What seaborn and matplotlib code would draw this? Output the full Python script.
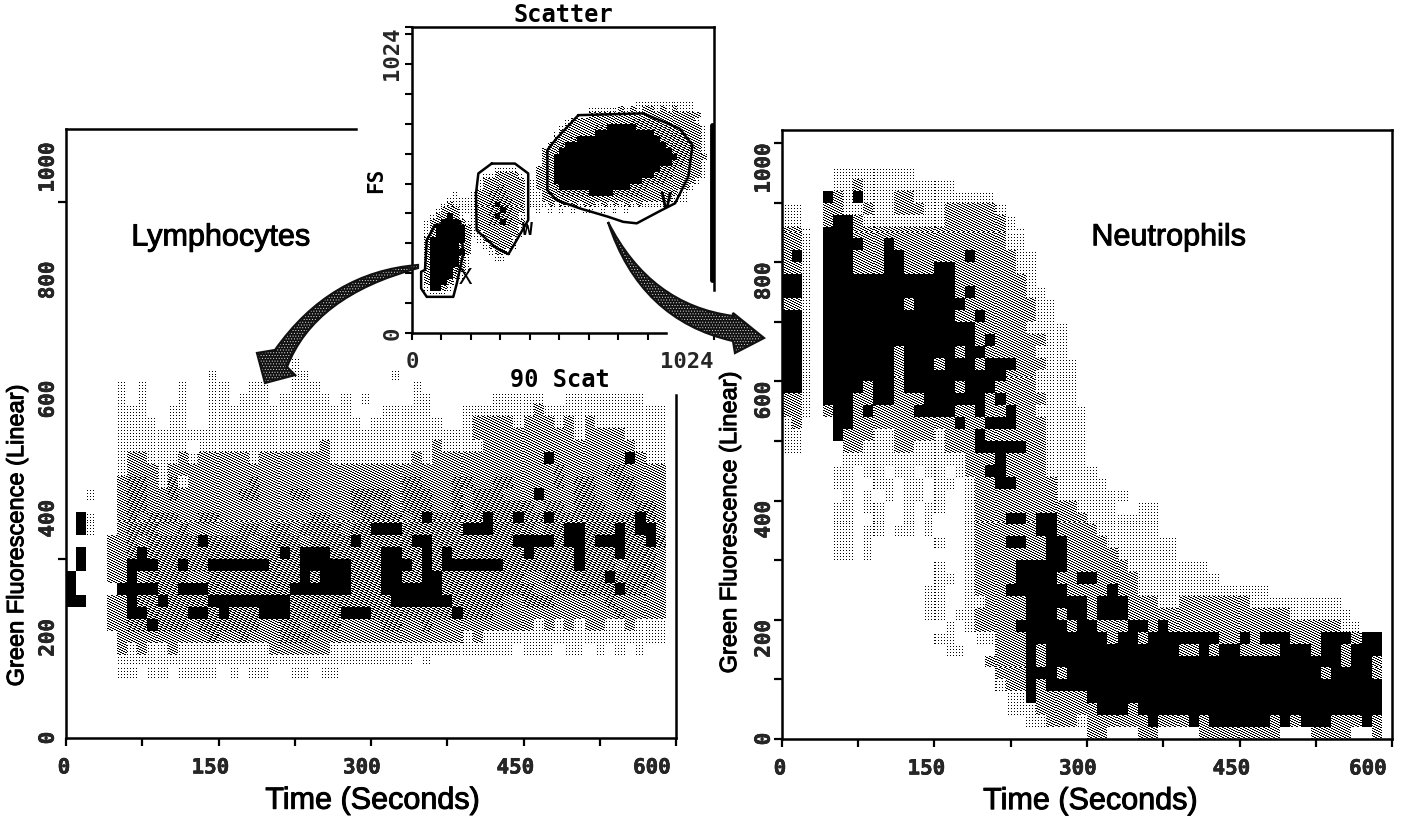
import numpy as np
import matplotlib
matplotlib.use('Agg')
import matplotlib.pyplot as plt
import matplotlib.patheffects as pe
from matplotlib.colors import ListedColormap
from matplotlib.patches import PathPatch
from matplotlib.path import Path
from matplotlib.transforms import ScaledTranslation
import seaborn as sns

# levels per cell: 0 blank, 1 sparse dots, 2 light dither, 3 dense dither, 4 solid
# each row is one 20 unit band, top row first, 10 s per column
lympho_rows = [
    "0000000000 0000000000 0010000000 0000000000 0000000000 0000000000",
    "0000000000 0000100000 0011000000 0010000000 0000000000 0000000000",
    "0000010100 0100110011 0011100000 0000100000 0000000000 0000000000",
    "0000010100 0100110111 0111110101 0000110000 0011111001 1111111000",
    "0000011100 1100111111 1111111100 0111110001 1111112111 1111111110",
    "0000011110 1100111111 1111111110 1111111001 2222122212 1211111110",
    "0000011111 1111111111 1111111111 1111111111 2222222222 1222211110",
    "0000011111 1101111111 1111121111 1111112111 1222222222 2222221110",
    "0000012211 1212222212 2222221111 1111212222 2222222422 2222242110",
    "0000012221 2222222222 2222222222 2222222222 2222222232 2223322220",
    "0000023321 3122222232 2222222222 2223322233 2233222232 3322332220",
    "0010023322 3222222332 2233222233 3323332232 3332224222 3322332220",
    "0000023322 2222222222 2222222233 2323332232 3333332332 3332223320",
    "0410023233 3223322222 2222332223 3332343333 3433433433 3333334320",
    "0410023332 2322222332 3323333233 4443333334 4433332334 4333434420",
    "0000223233 3334333323 3332333343 3333443333 3333444434 4344433430",
    "0400223433 3333333333 3434443333 3443343433 3333343333 4333433320",
    "0400224443 3433444444 3334444433 3444343444 4443333333 4333233320",
    "4000224233 3322333333 3334344433 3443344333 3333322333 3334333320",
    "4000044443 3444333333 3344444433 3444444333 3333332233 3333433220",
    "4400224334 3333444444 4433333333 3344444433 3332233322 2223222220",
    "0000224433 3344343334 4433333444 3333333343 3322222222 2222322220",
    "0000223343 3323333332 2332333222 2332232222 2222221212 1221121110",
    "0000022222 2222322322 2333222222 2222222221 2111111111 1111111110",
    "0000021211 2111111111 2222221111 1111111111 1111011101 1010101000",
    "0000011111 1111111111 1111111111 1111010000 0000000000 0000000000",
    "0000011011 0111101011 0011011000 0000000000 0000000000 0000000000",
]
lympho_bottom = 100

neutro_rows = [
    "0000011111 1110000000",
    "0000011211 1111111000",
    "0000421411 1221111111 1000000000",
    "1100221121 1222112222 2100000000",
    "1100244211 1111112222 2210000000",
    "2210444222 2222222222 2211000000",
    "2210444422 4222222222 2211000000",
    "2410444222 4422222242 2221100000",
    "2210444222 4422244222 2221100000",
    "4410444444 4444444222 2222100000",
    "4410444444 4444444242 2222110000",
    "2210444444 4424444422 2222211000",
    "4410444444 4444444224 2222211000",
    "4410444444 4444444442 2222111100",
    "4410444444 4444444442 4222221100",
    "4410444444 4244444244 2222211100",
    "4410444444 4244424442 4442221110",
    "4410444444 4244444444 4422211110",
    "4410444424 4244444244 4222211110",
    "2210444224 4222444444 2422221110",
    "2210244242 2224444224 2242211111",
    "1200044222 2222222422 4442221111",
    "1100042221 1222212224 2222221111",
    "1100002211 1221112224 4444221111",
    "0000001111 1111111122 2422221111",
    "0000011011 0110110122 4422221111 1000000000",
    "0000011001 1011011012 2442222111 1100000000",
    "0000001010 1011010012 2222222111 1111000000",
    "0000011011 0010110012 2222222221 1110011000",
    "0000011001 0010100012 2244244222 1111111000",
    "0000011011 0110100012 2222244222 2111111000",
    "0000011010 0000010012 2244224422 2211111110",
    "0000011010 0000000012 2222224422 2221111110",
    "0000000000 0000010012 2224444422 2222111111 1100000000",
    "0000000000 0000011012 2224444224 4222211111 1110000000",
    "0000000000 0000110012 2244444422 2242211111 1111111100 0000000000",
    "0000000000 0000110011 2222444444 2444222112 2222221111 1111100000",
    "0000000000 0000110112 2222444244 2444222222 2222222222 1111110000",
    "0000000000 0000001012 2224444424 4222442422 2222222222 2222211000",
    "0000000000 0000011001 1222444444 4424424444 4442242444 2224442440",
    "0000000000 0000001100 0222424444 4444444442 2424422224 4424424440",
    "0000000000 0000000000 2222424444 4444444444 4444444444 4444424420",
    "0000000000 0000000000 0222444244 4444444444 4444444444 4442444420",
    "0000000000 0000000000 0122424444 4444444444 4444444444 4444444440",
    "0000000000 0000000000 0011422222 4444444444 4444444444 4444444440",
    "0000000000 0000000000 0011122222 2444244444 4444444444 4444444440",
    "0000000000 0000000000 0000112221 2222224222 4244444424 2444222420",
    "0000000000 0000000000 0000000000 2200022000 0222222220 0022220020",
]
neutro_bottom = 0

# scatter panel: one 20 x 20 unit cell per character
scatter_rows = [
    "0000000000 0000000000 0000000000 0000000011 1111111100",
    "0000000000 0000000000 0000000000 1111121212 2121211100",
    "0000000000 0000000000 0000000000 2222222222 2222222220",
    "0000000000 0000000000 0000001222 2222222333 3322222210",
    "0000000000 0000000000 0000012222 2334444433 3333322221",
    "0000000000 0000000000 0000122222 2444444444 4333332221",
    "0000000000 0000000000 0000222344 4444444444 4433333221",
    "0000000000 0000000000 0002234444 4444444444 4443333321",
    "0000000000 0000000000 0022244444 4444444444 4444333221",
    "0000000000 0000000000 0022444444 4444444444 4444433222",
    "0000000000 0000000000 0022444444 4444444444 4444332221",
    "0000000000 0000111100 0222444444 4444444444 4433322221",
    "0000000000 0011222210 0222444444 4444444444 4333222221",
    "0000000000 0122222221 1222444444 4444444443 3332222210",
    "0000000000 0122332221 1222344444 4444444333 2222222100",
    "0000000100 1223332221 1122233333 4444333332 2222211000",
    "0000001111 1223333221 1122222222 2222222222 2222111000",
    "0000012111 1223433221 1112121212 2121212121 1110000000",
    "0000122211 1223343221 0101010101 1010101000",
    "0001224210 1223433211",
    "0012244421 1223343221",
    "0012444442 1222222210",
    "0012444442 1122222210",
    "0024444442 0122222100",
    "0024444422 0012222100",
    "0024444442 0001221000",
    "0024444421 0000110000",
    "0024444421",
    "0024444321",
    "0024444210",
    "0024442100",
    "0014421000",
    "0001110000",
]
scatter_bottom = 120

gate_v_x = [564, 784, 908, 951, 937, 892, 846, 762, 716, 665, 569, 490, 459, 459, 490, 564]
gate_v_y = [729, 735, 684, 629, 523, 434, 411, 367, 372, 389, 417, 445, 478, 612, 651, 729]
gate_w_x = [270, 349, 394, 394, 355, 327, 287, 219, 217, 225, 270]
gate_w_y = [567, 567, 534, 378, 311, 264, 283, 344, 467, 534, 567]
gate_x_x = [78, 50, 44, 31, 31, 50, 140, 152, 174, 163, 78]
gate_x_y = [361, 311, 211, 205, 149, 121, 121, 166, 267, 372, 361]
edge_bar_x = [1017, 1017]
edge_bar_y = [177, 696]

time_ticks = [0, 150, 300, 450, 600]
time_minor = [75, 225, 375, 525]
fluor_ticks = [0, 200, 400, 600, 800, 1000]
fluor_minor = [100, 300, 500, 700, 900]
lympho_tick_marks = [0, 300, 900, 1000]
label_shift = [-2, -8, -9, -8, -24]

FIG_W, FIG_H = 1401, 819
MONO = 'DejaVu Sans Mono'
SANS = 'Liberation Sans'
black_cmap = ListedColormap(['black'])
thick = [pe.withStroke(linewidth=0.7, foreground='black')]
thick_ticks = [pe.withStroke(linewidth=0.4, foreground='black')]


def axes_from_px(fig, left, top, right, bottom):
    return fig.add_axes([left / FIG_W, 1 - bottom / FIG_H,
                         (right - left) / FIG_W, (bottom - top) / FIG_H])


def draw_density(ax, rows, x_step, y_step, y_start, nx, ny):
    # halftone the levels the way the printed plot does
    clean = ["".join(r.split()) for r in rows]
    ncols = max(len(r) for r in clean)
    grid = np.array([[int(c) for c in r.ljust(ncols, '0')] for r in clean[::-1]])
    fine = np.kron(grid, np.ones((ny, nx), dtype=int))
    j, i = np.indices(fine.shape)
    tone = (i + 2 * j) % 5
    keep = ((fine == 4)
            | ((fine == 3) & ((tone < 2) | ((tone == 2) & (j % 2 == 0))))
            | ((fine == 2) & (tone < 2))
            | ((fine == 1) & (i % 3 == 0) & (j % 3 == 0)))
    dx, dy = x_step / nx, y_step / ny
    x_edges = np.arange(fine.shape[1] + 1) * dx
    y_edges = y_start + np.arange(fine.shape[0] + 1) * dy
    sns.histplot(x=(i[keep] + 0.5) * dx, y=y_start + (j[keep] + 0.5) * dy,
                 bins=[x_edges, y_edges], cmap=black_cmap, cbar=False,
                 antialiased=False, ax=ax)


def style_time_panel(ax, major_y_marks=True):
    ax.set_xlim(0, 600)
    ax.set_ylim(0, 1022)
    ax.set_xticks(time_ticks)
    ax.set_xticks(time_minor, minor=True)
    ax.set_xticklabels([str(t) for t in time_ticks], family=MONO, weight='bold', fontsize=15,
                       path_effects=thick_ticks)
    ax.set_yticks(fluor_ticks)
    ax.set_yticklabels([str(t) for t in fluor_ticks], family=MONO, weight='bold', fontsize=15,
                       path_effects=thick_ticks)
    ax.tick_params(axis='x', which='both', length=6, width=1.6, bottom=True, color='black')
    ax.tick_params(axis='x', which='major', pad=8)
    for lab, shift in zip(ax.get_xticklabels(), label_shift):
        lab.set_transform(lab.get_transform() + ScaledTranslation(shift * 0.01, 0, ax.figure.dpi_scale_trans))
    for n, lab in enumerate(ax.get_yticklabels()):
        lab.set_rotation(90)
        lab.set_va('center' if n == 0 else 'top')
    if major_y_marks:
        ax.set_yticks(fluor_minor, minor=True)
        ax.tick_params(axis='y', which='both', length=6, width=1.6, left=True, pad=0, color='black')
    else:
        ax.set_yticks(lympho_tick_marks, minor=True)
        ax.tick_params(axis='y', which='major', length=5, width=0, left=True, pad=1)
        ax.tick_params(axis='y', which='minor', length=6, width=1.6, left=True, color='black')
    for sp in ax.spines.values():
        sp.set_visible(True)
        sp.set_linewidth(1.8)
        sp.set_color('black')
    ax.set_xlabel('Time (Seconds)', family=SANS, fontsize=22, color='black', path_effects=thick)
    ax.set_ylabel('Green Fluorescence (Linear)', family=SANS, fontsize=17, color='black', path_effects=thick)


def arrow(fig, pts, codes):
    xy = [(x / FIG_W, 1 - y / FIG_H) for x, y in pts]
    shape = Path(xy, codes)
    fig.add_artist(PathPatch(shape, transform=fig.transFigure, facecolor='#111111',
                             edgecolor='#dddddd', hatch='......', linewidth=0, zorder=6))
    fig.add_artist(PathPatch(shape, transform=fig.transFigure, facecolor='none',
                             edgecolor='#111111', linewidth=1.6, zorder=7))


sns.set_theme(style='white')
plt.rcParams['hatch.linewidth'] = 0.4
fig = plt.figure(figsize=(FIG_W / 100, FIG_H / 100), dpi=100, facecolor='white')

# lymphocytes
ax_l = axes_from_px(fig, 66, 129, 676, 738)
ax_l.patch.set_alpha(0)
draw_density(ax_l, lympho_rows, 10, 20, lympho_bottom, 10, 12)
style_time_panel(ax_l, major_y_marks=False)
ax_l.spines['top'].set_bounds(0, 285)
ax_l.spines['right'].set_bounds(0, 575)
ax_l.xaxis.set_label_coords(0.502, -0.103)
ax_l.xaxis.label.set_va('center')
ax_l.yaxis.set_label_coords(-0.08, 0.333)
ax_l.yaxis.label.set_va('center')
ax_l.text(152, 840, 'Lymphocytes', family=SANS, fontsize=22, ha='center', va='center',
          color='black', path_effects=thick)

# neutrophils
ax_r = axes_from_px(fig, 782, 130, 1392, 739)
ax_r.patch.set_alpha(0)
draw_density(ax_r, neutro_rows, 10, 20, neutro_bottom, 10, 12)
style_time_panel(ax_r)
ax_r.xaxis.set_label_coords(0.505, -0.102)
ax_r.xaxis.label.set_va('center')
ax_r.yaxis.set_label_coords(-0.085, 0.356)
ax_r.yaxis.label.set_va('center')
ax_r.text(380, 842, 'Neutrophils', family=SANS, fontsize=22, ha='center', va='center',
          color='black', path_effects=thick)

# scatter gate plot
ax_s = axes_from_px(fig, 412, 27, 714, 333)
ax_s.patch.set_alpha(0)
draw_density(ax_s, scatter_rows, 20, 20, scatter_bottom, 6, 6)
for gx, gy in [(gate_v_x, gate_v_y), (gate_w_x, gate_w_y), (gate_x_x, gate_x_y)]:
    sns.lineplot(x=gx, y=gy, sort=False, estimator=None, color='black', linewidth=1.8, ax=ax_s)
sns.lineplot(x=edge_bar_x, y=edge_bar_y, sort=False, estimator=None, color='black', linewidth=3.5, ax=ax_s)
ax_s.text(860, 440, 'V', family=MONO, weight='bold', fontsize=15, ha='center', va='center', color='black')
ax_s.text(390, 345, 'W', family=MONO, weight='bold', fontsize=13, ha='center', va='center', color='black')
ax_s.text(180, 185, 'X', family=MONO, fontsize=16, ha='center', va='center', color='black')
ax_s.set_xlim(0, 1024)
ax_s.set_ylim(0, 1024)
ax_s.set_xticks([0, 1024])
ax_s.set_xticklabels(['0', '1024'], family=MONO, weight='bold', fontsize=16)
ax_s.set_xticks(range(100, 900, 100), minor=True)
ax_s.set_yticks([0, 1024])
ax_s.set_yticklabels(['0', '1024'], family=MONO, weight='bold', fontsize=16)
ax_s.set_yticks(range(100, 1001, 100), minor=True)
ax_s.tick_params(axis='both', which='both', width=1.5, bottom=True, left=True, color='black')
ax_s.tick_params(axis='x', which='minor', length=5)
ax_s.tick_params(axis='y', which='minor', length=5)
ax_s.tick_params(axis='x', which='major', length=5, pad=9)
ax_s.tick_params(axis='y', which='major', length=5, pad=2)
x_tick_labels = ax_s.get_xticklabels()
x_tick_labels[1].set_ha('right')
y_tick_labels = ax_s.get_yticklabels()
y_tick_labels[0].set_rotation(90)
y_tick_labels[0].set_va('center')
y_tick_labels[1].set_rotation(90)
y_tick_labels[1].set_va('top')
for sp in ax_s.spines.values():
    sp.set_visible(True)
    sp.set_linewidth(1.8)
    sp.set_color('black')
ax_s.spines['bottom'].set_bounds(0, 860)
ax_s.spines['right'].set_bounds(144, 1024)
ax_s.set_title('Scatter', family=MONO, weight='bold', fontsize=17, color='black', pad=2)
ax_s.set_xlabel('90 Scat', family=MONO, weight='bold', fontsize=17, color='black')
ax_s.xaxis.set_label_coords(0.49, -0.154)
ax_s.xaxis.label.set_va('center')
ax_s.set_ylabel('FS', family=MONO, weight='bold', fontsize=15, color='black')
ax_s.yaxis.set_label_coords(-0.118, 0.5)
ax_s.yaxis.label.set_va('center')

# arrows from the gates out to the time plots
shape_codes = [Path.MOVETO, Path.CURVE3, Path.CURVE3, Path.LINETO, Path.LINETO, Path.LINETO,
               Path.LINETO, Path.CURVE3, Path.CURVE3, Path.CLOSEPOLY]
arrow(fig, [(418, 265), (330, 272), (275, 350), (257, 353), (265, 383), (295, 375),
            (287, 367), (314, 296), (418, 268), (418, 265)], shape_codes)
arrow(fig, [(608, 222), (640, 320), (733, 341), (735, 353), (764, 338), (733, 313),
            (733, 316), (650, 305), (608, 222), (608, 222)], shape_codes)

fig.savefig('out.png', dpi=100, facecolor='white')
